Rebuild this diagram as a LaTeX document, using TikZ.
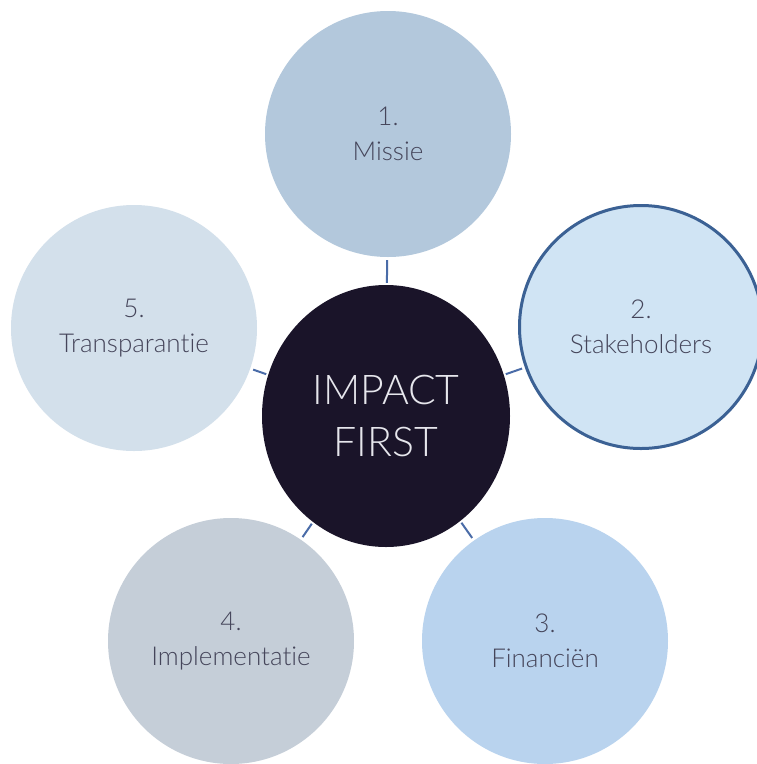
\documentclass[tikz,border=0pt]{standalone}
\usepackage{fontspec}
\setmainfont{Lato}[UprightFont=* Light,Ligatures={NoCommon}]
\usetikzlibrary{shapes.geometric}
\definecolor{ctop}{HTML}{B3C8DC}
\definecolor{cright}{HTML}{D0E4F4}
\definecolor{crightline}{HTML}{3B6194}
\definecolor{cleft}{HTML}{D3E0EB}
\definecolor{cbl}{HTML}{C5CED8}
\definecolor{cbr}{HTML}{B9D3EE}
\definecolor{ccenter}{HTML}{1A1429}
\definecolor{cconn}{HTML}{4A6CA8}
\definecolor{ctext}{HTML}{45455A}
\definecolor{ctextc}{HTML}{E6E6EC}
\begin{document}
\begin{tikzpicture}[x=1pt,y=-1pt,
  outer/.style={circle,minimum size=246pt,inner sep=0pt,align=center,
    text=ctext,font=\fontsize{26}{35}\selectfont},
  hub/.style={ellipse,minimum width=248pt,minimum height=262pt,inner sep=0pt,
    align=center,fill=ccenter,text=ctextc,font=\fontsize{41}{52}\selectfont},
  conn/.style={draw=cconn,line width=2pt,shorten <=2pt,shorten >=3pt}]
\useasboundingbox[fill=white] (0,0) rectangle (756,764);
\node[outer,fill=ctop] (top) at (388,134) {1.\\Missie};
\node[outer,fill=cright,draw=crightline,line width=3pt,minimum size=243pt] (right) at (641,327) {2.\\Stakeholders};
\node[outer,fill=cleft] (left) at (134,328) {5.\\Transparantie};
\node[outer,fill=cbl] (bl) at (231,641) {4.\\Implementatie};
\node[outer,fill=cbr] (br) at (545,641) {3.\\Financiën};
\node[hub] (hub) at (386,416) {IMPACT\\FIRST};
\draw[conn] (hub) -- (top);
\draw[conn] (hub) -- (right);
\draw[conn] (hub) -- (left);
\draw[conn] (hub) -- (bl);
\draw[conn] (hub) -- (br);
\end{tikzpicture}
\end{document}
